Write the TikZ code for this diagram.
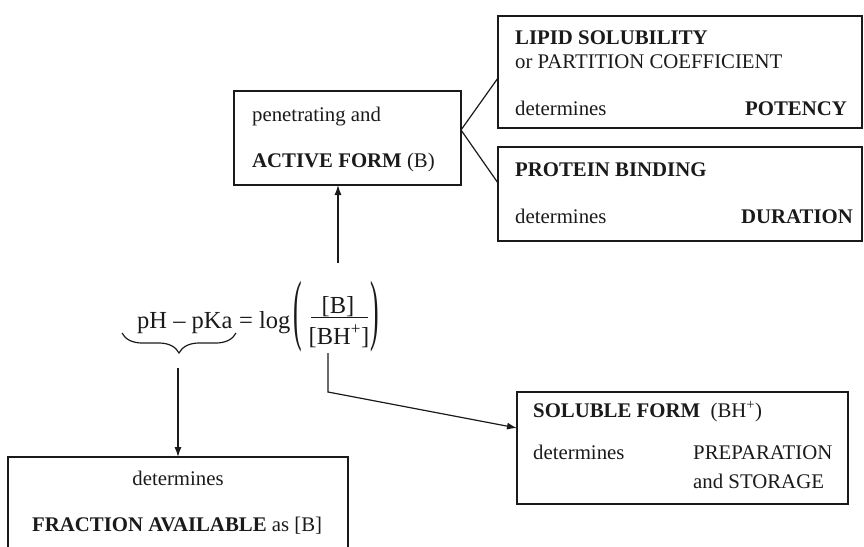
\documentclass[tikz,border=0pt]{standalone}
\usepackage{graphicx}
\usepackage{fontspec}
\setmainfont{Liberation Serif}
\usetikzlibrary{arrows.meta,decorations.pathreplacing,calc}
\definecolor{ink}{HTML}{1A1A1A}
\tikzset{
  box/.style={draw=ink, line width=1.4pt, inner sep=0pt, rectangle},
  txt/.style={inner sep=0pt, anchor=base west, text=ink, font=\fontsize{20.8}{24}\selectfont},
  eqtxt/.style={inner sep=0pt, anchor=base west, text=ink, font=\fontsize{24.5}{28}\selectfont},
  conn/.style={draw=ink, line width=1.2pt},
  arr/.style={conn, -{Latex[length=10pt,width=7pt]}},
  parentxt/.style={inner sep=0pt, text=ink, font=\fontsize{24.5}{28}\selectfont}
}
\begin{document}
\begin{tikzpicture}[x=1pt,y=-1pt]
\useasboundingbox (0,0) rectangle (864,546);
\clip (0,0) rectangle (864,546);

% boxes
\node[box, minimum width=227pt, minimum height=94pt] (active) at (347.5,138) {};
\node[box, minimum width=364pt, minimum height=112pt] (lipid) at (680,72) {};
\node[box, minimum width=364pt, minimum height=94pt] (protein) at (680,194) {};
\node[box, minimum width=331pt, minimum height=112pt] (soluble) at (682.5,448) {};
\node[box, minimum width=340pt, minimum height=130pt] (fraction) at (178,522) {};

% active box text
\node[txt] (a1) at (252,121) {penetrating and};
\node[txt] (a2) at (252,167) {\textbf{ACTIVE FORM} (B)};

% lipid box text
\node[txt] (l1) at (515,44) {\textbf{LIPID SOLUBILITY}};
\node[txt] (l2) at (515,68) {or PARTITION COEFFICIENT};
\node[txt] (l3) at (515,115) {determines};
\node[txt, anchor=base east] (l4) at (847,115) {\textbf{POTENCY}};

% protein box text
\node[txt] (p1) at (515,176) {\textbf{PROTEIN BINDING}};
\node[txt] (p2) at (515,223) {determines};
\node[txt, anchor=base east] (p3) at (853,223) {\textbf{DURATION}};

% soluble box text
\node[txt] (s1) at (533,417) {\textbf{SOLUBLE FORM}\ \ (BH\textsuperscript{+})};
\node[txt] (s2) at (533,459) {determines};
\node[txt] (s3) at (693,459) {PREPARATION};
\node[txt] (s4) at (693,488) {and STORAGE};

% fraction box text
\node[txt, anchor=base] (f1) at (178,485) {determines};
\node[txt] (f2) at (32,531) {\textbf{FRACTION AVAILABLE} as [B]};

% equation
\node[eqtxt] (lhs) at (137,328) {pH -- pKa};
\node[eqtxt] (eqlog) at (239,328) {= log};
\node[eqtxt, anchor=base] (num) at (338,313) {[B]};
\node[eqtxt, anchor=base] (den) at (339,344) {[BH\textsuperscript{+}]};
\draw[ink, line width=1pt] (311,317) -- (368,317);
\node[parentxt] (lp) at (297.5,317) {\scalebox{1.05}[3.2]{(}};
\node[parentxt] (rp) at (375,317) {\scalebox{1.05}[3.2]{)}};

% brace under pH - pKa
\draw[ink, line width=1.2pt, decorate, decoration={brace, mirror, amplitude=20pt}] (122,333) -- (236,333);
\coordinate (bracetip) at (178,368);
\coordinate (activein) at (338,185);
\coordinate (eqtop) at (338,263);
\coordinate (denout) at (328,353);
\coordinate (bend) at (328,392);
\coordinate (solin) at (517,428);
\coordinate (fracin) at (178,457);
\coordinate (junc) at (461,130);
\coordinate (lipidin) at (498,78);
\coordinate (proteinin) at (498,183);

% connectors
\draw[conn] (junc) -- (lipidin);
\draw[conn] (junc) -- (proteinin);
\draw[arr] (eqtop) -- (activein);
\draw[arr] (bracetip) -- (fracin);
\draw[arr] (denout) -- (bend) -- (solin);
\end{tikzpicture}
\end{document}
